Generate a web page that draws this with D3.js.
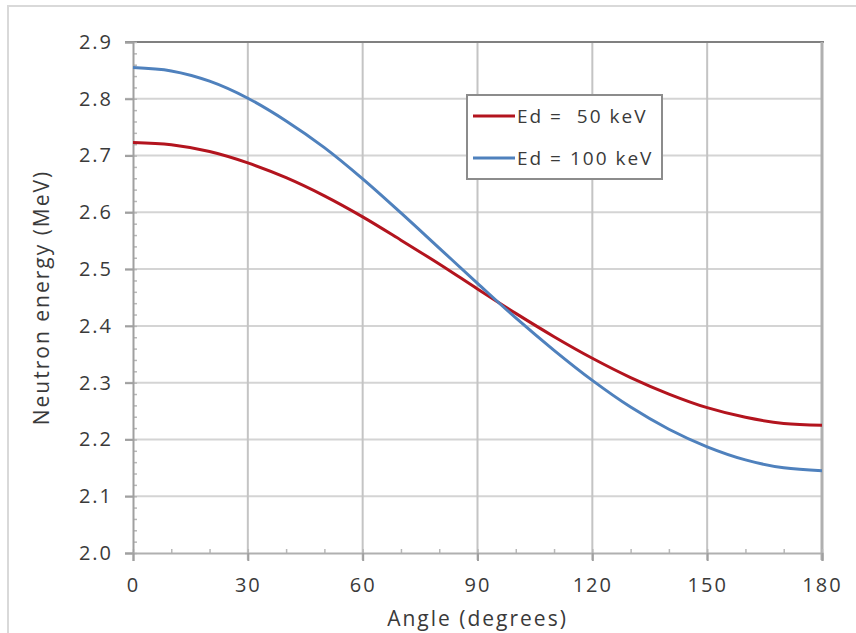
<!DOCTYPE html>
<html>
<head>
<meta charset="utf-8">
<style>
  body { margin: 0; background: #fff; }
  svg { display: block; }
  text { font-family: "Open Sans", sans-serif; fill: #3a3a3a; letter-spacing: 2px; }
</style>
</head>
<body>
<svg id="chart" width="856" height="633"></svg>

<script src="https://d3js.org/d3.v7.min.js"></script>
<script>
  // Neutron energy vs emission angle, every 10 degrees
  const angles = [0, 10, 20, 30, 40, 50, 60, 70, 80, 90, 100, 110, 120, 130, 140, 150, 160, 170, 180]
  const ed50 = [2.723, 2.719, 2.707, 2.687, 2.661, 2.629, 2.592, 2.551, 2.509, 2.465,
                2.422, 2.381, 2.343, 2.309, 2.280, 2.256, 2.239, 2.228, 2.225]
  const ed100 = [2.855, 2.849, 2.831, 2.801, 2.761, 2.714, 2.659, 2.599, 2.537, 2.475,
                 2.414, 2.357, 2.304, 2.257, 2.218, 2.187, 2.164, 2.150, 2.145]

  const xTicks = [0, 30, 60, 90, 120, 150, 180]
  const yTicks = [2.0, 2.1, 2.2, 2.3, 2.4, 2.5, 2.6, 2.7, 2.8, 2.9]
  const seriesNames = ['Ed =  50 keV', 'Ed = 100 keV']
  const seriesColors = ['#b3141e', '#4f81bd']

  const svg = d3.select('#chart')

  // outer chart frame (only top and left edges are inside the picture)
  svg.append('rect')
    .attr('x', 8).attr('y', 6)
    .attr('width', 900).attr('height', 700)
    .attr('fill', 'none')
    .attr('stroke', '#d9d9d9')
    .attr('stroke-width', 2)

  const plot = { left: 133, right: 822, top: 42, bottom: 553 }

  const x = d3.scaleLinear().domain([0, 180]).range([plot.left, plot.right])
  const y = d3.scaleLinear().domain([2.0, 2.9]).range([plot.bottom, plot.top])

  // gridlines
  svg.append('g')
    .selectAll('line')
    .data(yTicks.slice(1, -1))
    .join('line')
    .attr('x1', plot.left - 8).attr('x2', plot.right)
    .attr('y1', d => y(d)).attr('y2', d => y(d))
    .attr('stroke', '#d4d4d4')
    .attr('stroke-width', 2)

  svg.append('g')
    .selectAll('line')
    .data(xTicks.slice(1, -1))
    .join('line')
    .attr('x1', d => x(d)).attr('x2', d => x(d))
    .attr('y1', plot.top).attr('y2', plot.bottom + 7)
    .attr('stroke', '#c4c4c4')
    .attr('stroke-width', 2)

  // plot border: top darker, right lighter
  svg.append('line')
    .attr('x1', plot.left - 8).attr('x2', plot.right + 2)
    .attr('y1', plot.top).attr('y2', plot.top)
    .attr('stroke', '#808080').attr('stroke-width', 2)
  svg.append('line')
    .attr('x1', plot.right).attr('x2', plot.right)
    .attr('y1', plot.top).attr('y2', plot.bottom + 7)
    .attr('stroke', '#b0b0b0').attr('stroke-width', 3)

  // axes with minor ticks
  const yAxis = d3.axisLeft(y).tickValues(d3.range(2.0, 2.9001, 0.02)).tickSize(0).tickFormat('')
  const gyMinor = svg.append('g').attr('transform', `translate(${plot.left},0)`).call(yAxis)
  gyMinor.select('.domain').remove()
  gyMinor.selectAll('.tick line').attr('x2', 4).attr('stroke', '#b8b8b8').attr('stroke-width', 1.5)

  const xAxisMinor = d3.axisBottom(x).tickValues(d3.range(0, 181, 10)).tickSize(0).tickFormat('')
  const gxMinor = svg.append('g').attr('transform', `translate(0,${plot.bottom})`).call(xAxisMinor)
  gxMinor.select('.domain').remove()
  gxMinor.selectAll('.tick line').attr('y2', -4).attr('stroke', '#b8b8b8').attr('stroke-width', 1.5)

  const gy = svg.append('g')
    .attr('transform', `translate(${plot.left},0)`)
    .call(d3.axisLeft(y).tickValues(yTicks).tickSize(8).tickPadding(12).tickFormat(d3.format('.1f')))
  gy.select('.domain').attr('stroke', '#a0a0a0').attr('stroke-width', 2)
  gy.selectAll('.tick line').attr('stroke', '#a0a0a0').attr('stroke-width', 2)
  gy.selectAll('.tick text').attr('font-size', 20).attr('fill', '#3a3a3a').style('font-family', '"Open Sans", sans-serif')

  const gx = svg.append('g')
    .attr('transform', `translate(0,${plot.bottom})`)
    .call(d3.axisBottom(x).tickValues(xTicks).tickSize(8).tickPadding(17))
  gx.select('.domain').attr('stroke', '#b0b0b0').attr('stroke-width', 2)
  gx.selectAll('.tick line').attr('stroke', '#a0a0a0').attr('stroke-width', 2)
  gx.selectAll('.tick text').attr('font-size', 20).attr('fill', '#3a3a3a').style('font-family', '"Open Sans", sans-serif')

  // axis titles
  svg.append('text')
    .attr('x', (plot.left + plot.right) / 2).attr('y', 626)
    .attr('text-anchor', 'middle')
    .attr('font-size', 21)
    .text('Angle (degrees)')

  svg.append('text')
    .attr('transform', `translate(49,${(plot.top + plot.bottom) / 2}) rotate(-90)`)
    .attr('text-anchor', 'middle')
    .attr('font-size', 21)
    .text('Neutron energy (MeV)')

  // curves
  const line = d3.line()
    .x((d, i) => x(angles[i]))
    .y(d => y(d))
    .curve(d3.curveCatmullRom)

  svg.append('g')
    .selectAll('path')
    .data([ed50, ed100])
    .join('path')
    .attr('d', d => line(d))
    .attr('fill', 'none')
    .attr('stroke', (d, i) => seriesColors[i])
    .attr('stroke-width', 3)

  // legend
  const legend = svg.append('g').attr('transform', 'translate(467,95)')
  legend.append('rect')
    .attr('width', 195).attr('height', 84)
    .attr('fill', '#fff')
    .attr('stroke', '#8c8c8c')
    .attr('stroke-width', 2)

  const items = legend.selectAll('g.item')
    .data(seriesNames)
    .join('g')
    .attr('class', 'item')
    .attr('transform', (d, i) => `translate(0,${21 + i * 42})`)
  items.append('line')
    .attr('x1', 6).attr('x2', 48)
    .attr('stroke', (d, i) => seriesColors[i])
    .attr('stroke-width', 3)
  items.append('text')
    .attr('x', 50).attr('dy', '0.35em')
    .attr('font-size', 19)
    .style('white-space', 'pre')
    .text(d => d)
</script>
</body>
</html>
